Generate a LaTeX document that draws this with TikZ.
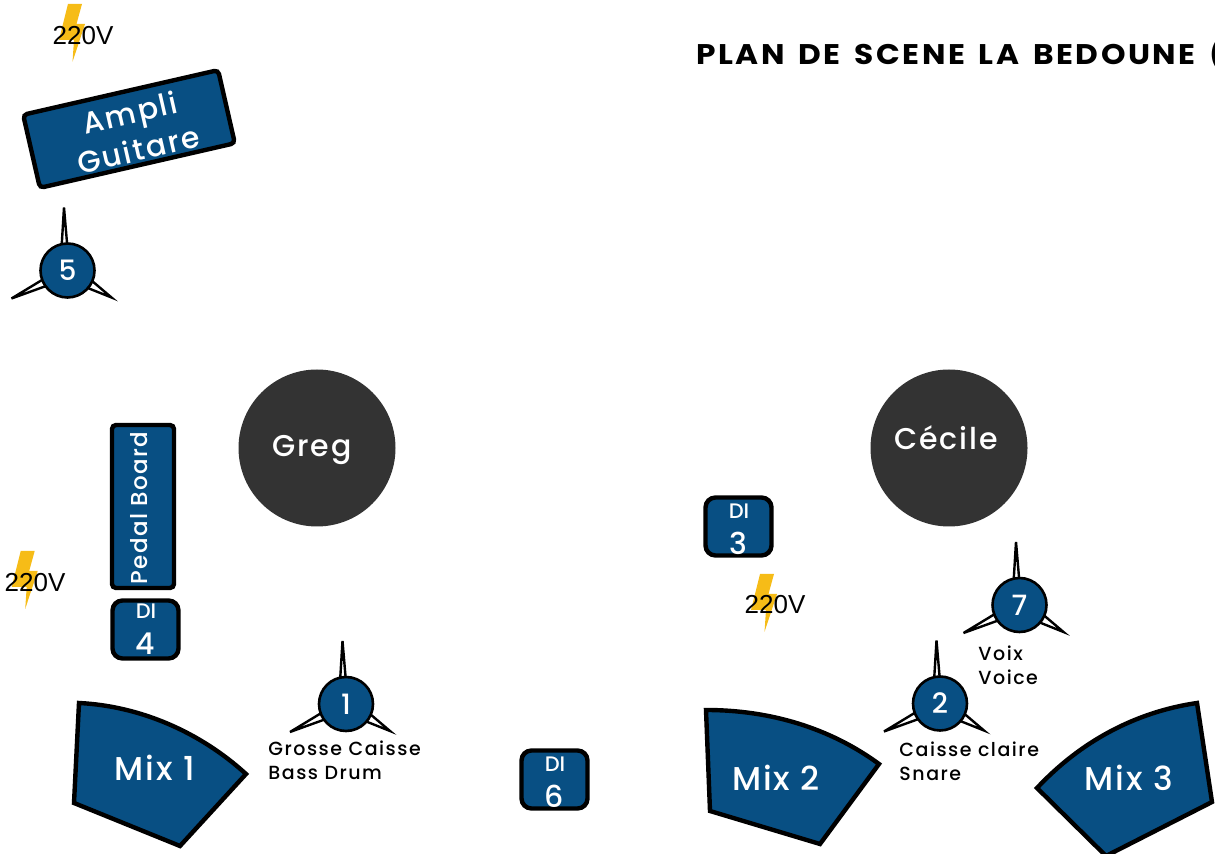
\documentclass[tikz,border=0pt]{standalone}
\usepackage{fontspec}
\setmainfont{Poppins}[UprightFont=* Medium, BoldFont=* SemiBold]
\newfontfamily\plainfont{Liberation Sans}
\newfontfamily\titlefont{Poppins}[UprightFont=* Bold, FakeStretch=1.1, LetterSpace=9, WordSpace=1.5]
\definecolor{mixblue}{HTML}{084F83}
\definecolor{boltyellow}{HTML}{F6BC17}
\definecolor{bodygray}{HTML}{333333}
\newcommand{\spaced}[2]{\addfontfeatures{LetterSpace=#1}#2}
\tikzset{
  blue box/.style={draw=black, fill=mixblue, line width=2.2pt, rounded corners=2pt, text=white, align=center, inner sep=0pt},
  di box/.style={blue box, rounded corners=5pt, minimum width=33pt, minimum height=29pt},
  mix shape/.style={draw=black, fill=mixblue, line width=2.2pt, line join=miter},
  mix label/.style={text=white, font=\fontsize{16.5}{18}\selectfont\spaced{6}{}, inner sep=0pt},
  body node/.style={circle, fill=bodygray, minimum size=78.5pt, text=white, inner sep=0pt},
  body name/.style={text=white, inner sep=0pt, font=\fontsize{15}{18}\selectfont\spaced{6}{}},
  di top/.style={text=white, inner sep=0pt, font=\fontsize{10.5}{12}\selectfont},
  di num/.style={text=white, inner sep=0pt, font=\fontsize{15}{18}\selectfont},
  mic node/.style={circle, draw=black, fill=mixblue, line width=1.3pt, minimum size=27pt, inner sep=0pt, text=white, font=\fontsize{14}{16}\selectfont},
  mic text/.style={align=left, anchor=west, inner sep=0pt, font=\fontsize{9.5}{11.8}\selectfont\spaced{8}{}},
  power text/.style={inner sep=0pt, font=\plainfont\fontsize{13}{14}\selectfont},
  spike/.style={draw=black, fill=white, line width=1.2pt, line join=miter},
  bolt/.pic={\fill[boltyellow] (0,0) -- (14,0) -- (8.5,20) -- (17,20) -- (4.5,58) -- (6,36) -- (-9,36) -- cycle;},
  mic stand/.pic={
    \draw[spike] (-6,-22) -- (-3.5,-63) -- (0,-22) -- cycle;
    \draw[spike] (-23,8) -- (-56,28) -- (-20,15) -- cycle;
    \draw[spike] (24,10) -- (44,27) -- (19,17) -- cycle;}
}
\begin{document}
\begin{tikzpicture}[x=0.5pt,y=-0.5pt]
\useasboundingbox (0,0) rectangle (1215,854);
  % title
\node[anchor=west, inner sep=0pt, font=\titlefont\fontsize{14.2}{16}\selectfont] (title) at (696,55) {PLAN DE SCENE LA BEDOUNE (};
  % power
\pic at (68,4) {bolt};
\node[power text] (powerA) at (83,36) {220V};
\pic at (20.7,551) {bolt};
\node[power text] (powerB) at (35,583) {220V};
\pic at (760,574) {bolt};
\node[power text] (powerC) at (775,605) {220V};
  % guitar side
\node[blue box, rotate=12.9, minimum width=100pt, minimum height=37.5pt] (ampli) at (129,129) {};
\node[rotate=12.9, text=white, align=center, inner sep=0pt, font=\fontsize{15}{19}\selectfont\spaced{7}{}] (ampliName) at (134,131) {Ampli\\Guitare};
\pic at (67.5,270.5) {mic stand};
\node[mic node] (micE) at (67.5,270.5) {5};
\node[body node] (greg) at (317,448) {};
\node[body name] (gregName) at (312,450) {Greg};
\node[blue box, minimum width=31pt, minimum height=81.5pt] (pedal) at (143,506.5) {};
\node[rotate=90, text=white, inner sep=0pt, font=\fontsize{11.5}{14}\selectfont\spaced{6}{}] (pedalName) at (139,508) {Pedal Board};
\node[di box] (diD) at (145.5,629.5) {};
\node[di top] (diDa) at (146,611) {DI};
\node[di num] (diDb) at (145,644) {4};
\node[di box] (diF) at (554.5,779.5) {};
\node[di top] (diFa) at (555,764) {DI};
\node[di num] (diFb) at (554,796) {6};
\path[mix shape] (79,703) .. controls (140,706) and (200,732) .. (246,774) -- (180,846) -- (74,803) -- cycle;
\node[mix label] (mixA) at (155,768) {Mix 1};
\pic at (346,704) {mic stand};
\node[mic node] (micA) at (346,704) {1};
\node[mic text] (micAtext) at (268,760) {Grosse Caisse\\Bass Drum};
  % voice side
\node[body node] (cecile) at (949,448) {};
\node[body name] (cecileName) at (946,438) {Cécile};
\node[di box] (diC) at (738.5,526.5) {};
\node[di top] (diCa) at (739,511) {DI};
\node[di num] (diCb) at (738,543) {3};
\pic at (1019.5,605) {mic stand};
\node[mic node] (micG) at (1019.5,605) {7};
\node[mic text] (micGtext) at (978,665) {Voix\\Voice};
\pic at (940,703.5) {mic stand};
\node[mic node] (micB) at (940,703.5) {2};
\node[mic text] (micBtext) at (899,761.5) {Caisse claire\\Snare};
\path[mix shape] (706,710) .. controls (770,710) and (830,728) .. (879,764) -- (820,844) -- (710,811) -- cycle;
\node[mix label] (mixB) at (776,778) {Mix 2};
\path[mix shape] (1197,703) .. controls (1135,712) and (1080,742) .. (1037,788) -- (1106,856) -- (1212,802) -- cycle;
\node[mix label] (mixC) at (1129,778) {Mix 3};
\end{tikzpicture}
\end{document}
